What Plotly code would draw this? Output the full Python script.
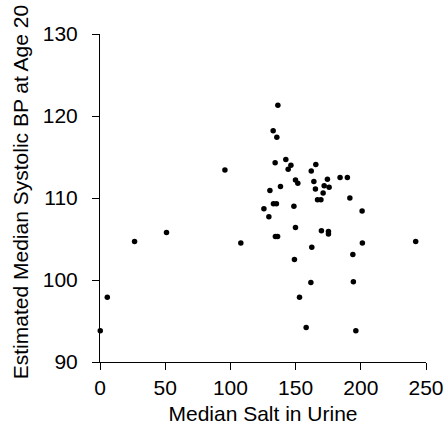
import plotly.graph_objects as go

salt = [0.2, 5.6, 26.5, 51, 95.8, 108, 125.7, 129.5, 130.3, 132.8, 133, 134.3, 134.5,
        135.3, 135.6, 136.2, 136.4, 138.4, 142.5, 144.3, 146.4, 148.7, 149.1, 149.9,
        149.9, 151.7, 153, 158.1, 161.7, 162, 162.4, 164, 165.2, 165.5, 166.8, 169.4,
        169.8, 171.1, 171.9, 174.4, 175.2, 175.2, 175.7, 184.1, 189.7, 191.6, 193.9,
        194.3, 196.2, 201, 201.2, 242.1]
bp = [93.8, 97.9, 104.7, 105.8, 113.4, 104.5, 108.7, 107.7, 110.9, 118.2, 109.3, 114.3,
      105.3, 109.3, 117.4, 105.3, 121.3, 111.4, 114.7, 113.5, 114.0, 109.0, 102.5, 112.2,
      106.4, 111.8, 97.9, 94.2, 99.7, 113.3, 104.0, 112.0, 111.1, 114.1, 109.8, 109.8,
      106.0, 110.6, 111.5, 112.3, 105.9, 105.6, 111.3, 112.5, 112.5, 110.0, 103.1,
      99.8, 93.8, 108.4, 104.5, 104.7]

x_ticks = [0, 50, 100, 150, 200, 250]
y_ticks = [90, 100, 110, 120, 130]

fig = go.Figure(go.Scatter(
    x=salt, y=bp, mode="markers",
    marker=dict(color="black", size=5.5),
    cliponaxis=False,
))

font = "Liberation Sans, Arial, sans-serif"
fig.update_layout(
    width=444, height=429,
    margin=dict(l=100, r=18, t=34, b=67),
    paper_bgcolor="white", plot_bgcolor="white",
    showlegend=False,
    font=dict(family=font, size=20, color="black"),
    xaxis=dict(
        range=[0, 250], tickvals=x_ticks, showgrid=False, zeroline=False,
        showline=True, linecolor="black", linewidth=1,
        ticks="outside", ticklen=7, tickcolor="black", automargin=False,
        ticklabelstandoff=0, tickfont=dict(size=21),
        title=dict(text="Median Salt in Urine", font=dict(size=21), standoff=8),
    ),
    yaxis=dict(
        range=[90, 130], tickvals=y_ticks, showgrid=False, zeroline=False,
        showline=True, linecolor="black", linewidth=1,
        ticks="outside", ticklen=7, tickcolor="black", automargin=False,
        ticklabelstandoff=10, tickfont=dict(size=21),
    ),
    annotations=[dict(
        text="Estimated Median Systolic BP at Age 20",
        xref="paper", yref="paper", x=-0.245, y=0.518,
        xanchor="center", yanchor="middle", textangle=-90,
        showarrow=False, font=dict(size=21),
    )],
)

fig.write_html(
    "out.html",
    config={"displayModeBar": False},
    post_script="document.body.style.margin='0';document.body.style.overflow='hidden';",
)
